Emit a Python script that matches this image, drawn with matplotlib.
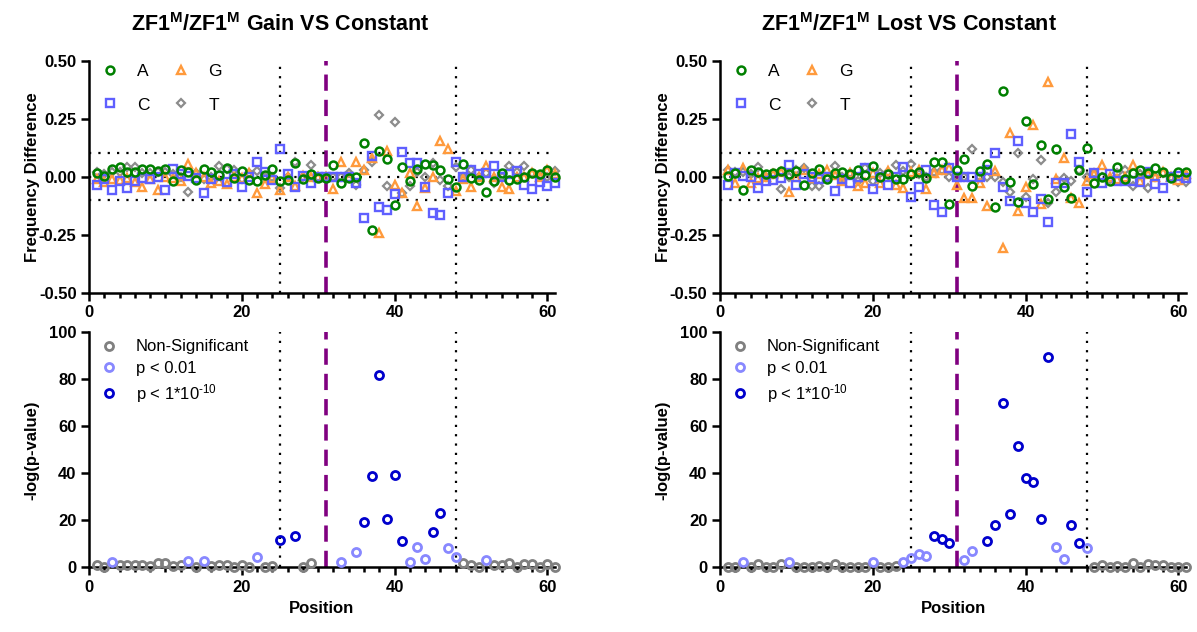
import numpy as np
import matplotlib
matplotlib.use('Agg')
import matplotlib.pyplot as plt

plt.rcParams['font.family'] = ['Liberation Sans', 'DejaVu Sans']
plt.rcParams['mathtext.fontset'] = 'custom'
plt.rcParams['mathtext.rm'] = 'Liberation Sans'
plt.rcParams['mathtext.bf'] = 'Liberation Sans:bold'
plt.rcParams['mathtext.it'] = 'Liberation Sans:italic'
plt.rcParams['axes.unicode_minus'] = False

positions = np.arange(1, 62)

# ---------------- Gain VS Constant : frequency differences ----------------
gain_A = [0.014, 0.004, 0.033, 0.043, 0.019, 0.019, 0.033, 0.033, 0.026, 0.032,
          -0.019, 0.029, 0.020, -0.014, 0.032, 0.022, 0.007, 0.039, -0.007, 0.024,
          -0.014, -0.019, 0.007, 0.033, -0.019, -0.014, 0.057, -0.011, 0.010, -0.004,
          -0.004, 0.050, -0.029, -0.004, 0.000, 0.144, -0.228, 0.110, 0.077, -0.123,
          0.043, -0.020, 0.034, 0.053, 0.049, 0.027, -0.009, -0.043, 0.053, -0.004,
          -0.014, -0.068, -0.019, 0.014, -0.014, -0.010, 0.000, 0.014, 0.011, 0.029,
          0.000]
gain_C = [-0.036, -0.010, -0.057, -0.019, -0.047, -0.019, -0.005, -0.010, 0.000, -0.057,
          0.032, 0.010, 0.005, -0.005, -0.072, -0.010, 0.005, -0.024, 0.010, -0.043,
          0.000, 0.065, 0.022, -0.014, 0.119, 0.010, -0.043, 0.005, -0.029, 0.000,
          0.000, 0.000, 0.000, 0.000, -0.029, -0.180, 0.089, -0.129, -0.145, -0.074,
          0.108, 0.057, 0.057, -0.043, -0.158, -0.165, -0.069, 0.065, 0.000, 0.029,
          0.010, 0.014, 0.046, 0.000, 0.010, 0.024, -0.036, -0.053, -0.024, -0.039,
          -0.029]
gain_G = [-0.010, -0.024, -0.010, -0.014, -0.005, -0.024, -0.043, -0.010, -0.057, 0.000,
          -0.005, -0.019, 0.053, 0.014, 0.000, -0.029, -0.019, -0.033, 0.000, -0.005,
          0.014, -0.069, -0.033, -0.005, -0.057, 0.000, -0.039, 0.005, 0.000, 0.000,
          0.000, -0.053, 0.062, 0.000, 0.065, 0.030, 0.080, -0.244, 0.112, -0.035,
          -0.070, 0.015, -0.128, -0.048, 0.000, 0.156, 0.119, -0.062, -0.010, -0.046,
          0.000, 0.047, 0.000, -0.046, -0.053, 0.000, 0.000, 0.018, 0.000, 0.029,
          0.010]
gain_T = [0.022, 0.010, 0.019, 0.019, 0.040, 0.043, 0.014, 0.014, 0.019, 0.022,
          0.010, 0.000, -0.065, 0.014, -0.010, 0.000, 0.046, 0.033, 0.029, -0.010,
          0.014, 0.024, 0.000, 0.000, -0.050, 0.000, 0.062, 0.000, 0.050, 0.000,
          0.000, 0.000, 0.000, 0.014, -0.035, 0.030, 0.062, 0.268, -0.042, 0.234,
          -0.070, -0.040, 0.020, 0.000, 0.058, -0.016, -0.040, 0.040, 0.000, 0.029,
          0.000, 0.014, -0.029, 0.000, 0.046, 0.020, 0.047, 0.014, 0.004, 0.000,
          0.024]

# ---------------- Lost VS Constant : frequency differences ----------------
lost_A = [0.004, 0.014, -0.057, 0.029, 0.022, 0.010, 0.014, 0.024, 0.010, 0.024,
          -0.036, 0.014, 0.033, -0.011, 0.014, 0.022, 0.010, 0.029, 0.007, 0.046,
          -0.003, 0.010, -0.011, -0.011, 0.010, 0.022, -0.007, 0.062, 0.065, -0.119,
          0.029, 0.076, -0.039, 0.025, 0.053, -0.129, 0.369, -0.021, -0.108, 0.241,
          -0.033, 0.137, -0.096, 0.119, -0.043, -0.090, 0.029, 0.122, -0.029, 0.000,
          -0.019, 0.043, -0.010, 0.014, 0.029, 0.014, 0.039, 0.019, -0.004, 0.019,
          0.022]
lost_C = [-0.036, 0.014, 0.005, 0.000, -0.050, -0.019, -0.014, -0.007, 0.050, -0.036,
          0.010, 0.000, -0.010, 0.000, -0.060, -0.010, -0.026, 0.000, 0.039, -0.053,
          0.000, -0.036, 0.000, 0.043, -0.086, -0.043, 0.029, -0.122, -0.151, 0.036,
          0.000, 0.000, 0.000, 0.000, 0.029, 0.100, -0.043, -0.105, 0.154, -0.113,
          -0.154, -0.096, -0.197, -0.029, -0.026, 0.183, 0.062, -0.067, 0.014, -0.029,
          0.011, -0.019, -0.019, -0.019, -0.022, 0.019, -0.033, -0.048, 0.000, 0.005,
          -0.004]
lost_G = [0.029, -0.029, 0.036, -0.029, -0.007, 0.000, 0.010, 0.019, -0.068, 0.000,
          0.029, -0.007, 0.010, 0.029, 0.007, -0.019, 0.014, -0.039, -0.029, 0.014,
          -0.029, 0.024, -0.036, -0.050, 0.019, 0.029, -0.055, 0.017, 0.029, 0.036,
          -0.036, -0.090, -0.090, -0.029, -0.126, 0.025, -0.306, 0.190, -0.150, -0.043,
          0.222, -0.119, 0.407, -0.010, 0.080, -0.090, -0.112, -0.019, 0.010, 0.050,
          0.000, -0.010, 0.000, 0.050, -0.020, 0.010, 0.000, 0.019, 0.000, -0.014,
          0.010]
lost_T = [0.029, 0.019, 0.022, 0.010, 0.043, 0.000, 0.010, -0.053, 0.000, 0.029,
          0.036, -0.039, -0.039, 0.000, 0.047, 0.000, 0.014, -0.019, 0.036, -0.019,
          0.014, 0.019, 0.050, 0.024, 0.053, 0.010, 0.000, 0.022, 0.029, 0.000,
          0.000, 0.000, 0.119, 0.000, 0.000, 0.000, -0.021, -0.065, 0.103, -0.086,
          -0.010, 0.072, -0.115, -0.065, -0.007, -0.018, 0.029, 0.000, 0.015, 0.000,
          -0.010, 0.014, 0.030, -0.040, 0.010, -0.050, 0.000, 0.014, 0.000, -0.024,
          -0.022]

# ---------------- -log(p-value) ----------------
nan = np.nan
gain_logp = [0.9, 0.1, 2.2, 0.9, 1.1, 0.9, 0.9, 0.6, 1.7, 1.7,
             0.6, 0.9, 2.5, 0.3, 2.5, 0.6, 0.9, 1.1, 0.3, 1.1,
             0.1, 4.3, 0.1, 0.6, 11.7, nan, 13.4, 0.3, 1.8, nan,
             nan, nan, 2.2, nan, 6.3, 19.3, 38.7, 81.8, 20.4, 39.2,
             11.4, 2.2, 8.6, 3.6, 15.1, 23.2, 8.4, 4.5, 1.7, 0.8,
             0.1, 3.2, 1.0, 0.8, 1.8, 0.2, 1.5, 1.5, 0.2, 1.2,
             0.3]
lost_logp = [0.3, 0.0, 2.2, 0.1, 1.3, 0.0, 0.1, 1.3, 2.3, 0.3,
             0.3, 0.3, 0.7, 0.1, 1.4, 0.1, 0.1, 0.1, 0.3, 2.2,
             0.1, 0.3, 0.7, 2.3, 4.1, 5.5, 4.8, 13.5, 12.0, 10.5,
             nan, 3.1, 7.1, nan, 11.3, 18.0, 69.8, 22.7, 51.8, 37.9,
             36.3, 20.7, 89.6, 8.5, 3.4, 17.8, 10.5, 8.1, 0.0, 0.8,
             0.1, 0.5, 0.1, 1.7, 0.1, 1.2, 0.8, 0.8, 0.0, 0.1,
             0.1]

titles = ['ZF1$^{\\mathbf{M}}$/ZF1$^{\\mathbf{M}}$ Gain VS Constant',
          'ZF1$^{\\mathbf{M}}$/ZF1$^{\\mathbf{M}}$ Lost VS Constant']
base_labels = ['A', 'C', 'G', 'T']
sig_labels = ['Non-Significant', 'p < 0.01', 'p < 1*10$^{\\text{-10}}$']
thr_low, thr_high = 2.0, 10.0   # -log10(0.01), -log10(1e-10)

# ---------------- styling ----------------
base_style = {
    'A': dict(marker='o', color='#008000', ms=5.7, mew=1.8),
    'C': dict(marker='s', color='#5F5FFF', ms=5.8, mew=1.7),
    'G': dict(marker='^', color='#FF9A3C', ms=6.4, mew=1.7),
    'T': dict(marker='D', color='#8C8C8C', ms=4.1, mew=1.6),
}
sig_colors = ['#808080', '#8888FF', '#0000CC']

W, H = 1197, 632
fig = plt.figure(figsize=(W / 100, H / 100), dpi=100)

ax_w = 466 / W
col_x = [89 / W, 720 / W]
top_y, top_h = 1 - 292.7 / H, 232 / H
bot_y, bot_h = 1 - 567.3 / H, 235 / H
title_x = [280 / W, 909 / W]

lw_axis = 1.8


def style_axes(ax):
    for s in ['top', 'right']:
        ax.spines[s].set_visible(False)
    for s in ['left', 'bottom']:
        ax.spines[s].set_linewidth(lw_axis)
    ax.tick_params(which='major', length=6, width=lw_axis, direction='out',
                   labelsize=12, pad=3)
    ax.tick_params(which='minor', length=3.5, width=lw_axis, direction='out')
    ax.set_xlim(0, 61)
    ax.set_xticks([0, 20, 40, 60])
    ax.set_xticks(np.arange(0, 61, 2), minor=True)


def ref_lines(ax, horiz):
    dot = (0, (1, 3.2))
    for xv in [25, 48]:
        ax.axvline(xv, color='black', lw=1.6, ls=dot, zorder=1)
    ax.axvline(31, color='#800080', lw=2.6, ls=(0, (4.5, 2.5)), zorder=1)
    if horiz:
        for yv in [-0.1, 0, 0.1]:
            ax.axhline(yv, color='black', lw=1.6, ls=dot, zorder=1)


datasets = [
    (dict(A=gain_A, C=gain_C, G=gain_G, T=gain_T), gain_logp),
    (dict(A=lost_A, C=lost_C, G=lost_G, T=lost_T), lost_logp),
]

for i, (freqs, logp) in enumerate(datasets):
    # ---- top: frequency difference ----
    ax = fig.add_axes([col_x[i], top_y, ax_w, top_h])
    style_axes(ax)
    ref_lines(ax, True)
    handles = {}
    for b in ['T', 'G', 'C', 'A']:
        st = base_style[b]
        h, = ax.plot(positions, freqs[b], ls='none', marker=st['marker'],
                     ms=st['ms'], mew=st['mew'], mec=st['color'], mfc='none',
                     zorder=3, clip_on=False)
        handles[b] = h
    ax.set_ylim(-0.5, 0.5)
    ax.set_yticks([-0.5, -0.25, 0, 0.25, 0.5])
    ax.set_yticklabels(['-0.50', '-0.25', '0.00', '0.25', '0.50'])
    ax.set_ylabel('Frequency Difference', fontsize=12, fontweight='bold')
    ax.yaxis.set_label_coords(-0.106, 0.5)
    ax.legend([handles[b] for b in base_labels], base_labels, ncol=2,
              loc='upper left', bbox_to_anchor=(0.026, 0.988),
              frameon=False, fontsize=12.5, handlelength=1.0,
              handletextpad=1.05, columnspacing=1.35, labelspacing=1.08,
              borderpad=0, borderaxespad=0)
    for lab in ax.get_xticklabels() + ax.get_yticklabels():
        lab.set_fontweight('bold')

    # ---- bottom: -log(p) ----
    axb = fig.add_axes([col_x[i], bot_y, ax_w, bot_h])
    style_axes(axb)
    ref_lines(axb, False)
    lp = np.asarray(logp, dtype=float)
    masks = [lp <= thr_low, (lp > thr_low) & (lp <= thr_high), lp > thr_high]
    hb = []
    for m, c in zip(masks, sig_colors):
        h, = axb.plot(positions[m], lp[m], ls='none', marker='o', ms=5.8,
                      mew=2.0, mec=c, mfc='none', zorder=3, clip_on=False)
        hb.append(h)
    axb.set_ylim(0, 100)
    axb.set_yticks([0, 20, 40, 60, 80, 100])
    axb.set_ylabel('-log(p-value)', fontsize=12, fontweight='bold')
    axb.yaxis.set_label_coords(-0.106, 0.5)
    axb.set_xlabel('Position', fontsize=12, fontweight='bold')
    axb.xaxis.set_label_coords(0.5, -0.145)
    axb.legend(hb, sig_labels, loc='upper left', bbox_to_anchor=(0.026, 0.97),
               frameon=False, fontsize=12, handlelength=1.0,
               handletextpad=1.1, labelspacing=0.38, borderpad=0,
               borderaxespad=0)
    for lab in axb.get_xticklabels() + axb.get_yticklabels():
        lab.set_fontweight('bold')

    fig.text(title_x[i], 1 - 30.7 / H, titles[i], ha='center', va='baseline',
             fontsize=15.5, fontweight='bold')

fig.savefig('out.png', dpi=100)
